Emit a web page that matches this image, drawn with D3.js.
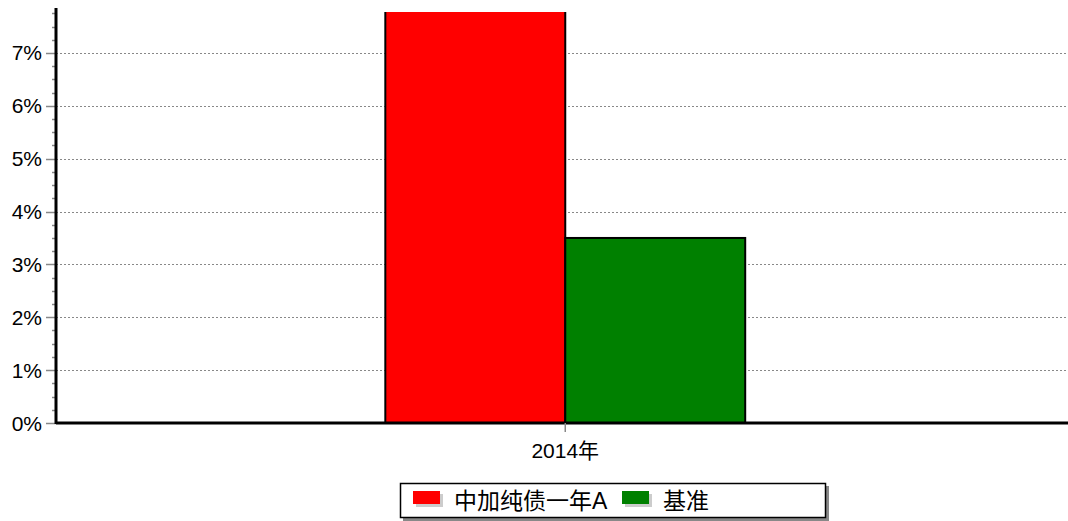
<!DOCTYPE html>
<html lang="zh">
<head>
  <meta charset="UTF-8">
  <title>中加纯债一年A 与 基准</title>
  <script src="https://d3js.org/d3.v7.min.js"></script>
  <style>
    body { margin: 0; background: #fff; }
    svg text { font-family: "Liberation Sans", Arial, "Noto Sans CJK SC", sans-serif; fill: #000; }
  </style>
</head>
<body>
<svg id="chart" width="1068" height="521"></svg>
<script>
  // data
  const categories = ['2014年'];
  const seriesNames = ['中加纯债一年A', '基准'];
  const seriesColors = ['#ff0000', '#008000'];
  const seriesValues = [[9.2], [3.5]]; // red bar runs past the top of the axis
  const yTicks = [0, 1, 2, 3, 4, 5, 6, 7];

  const svg = d3.select('#chart');
  const margin = { left: 56, right: 0, top: 8, bottom: 98 };
  const width = 1068, height = 521;
  const plotBottom = height - margin.bottom; // 423

  const y = d3.scaleLinear()
    .domain([0, 7.85])
    .range([plotBottom, margin.top]);

  const x0 = d3.scaleBand()
    .domain(categories)
    .range([margin.left, width - margin.right])
    .paddingInner(0)
    .paddingOuter(0.906)
    .align(0.505);

  const x1 = d3.scaleBand()
    .domain(seriesNames)
    .range([0, x0.bandwidth()]);

  // dotted grid lines
  svg.append('g')
    .selectAll('line')
    .data(yTicks.slice(1))
    .join('line')
    .attr('x1', margin.left)
    .attr('x2', width)
    .attr('y1', d => Math.round(y(d)) + 0.5)
    .attr('y2', d => Math.round(y(d)) + 0.5)
    .attr('stroke', '#888')
    .attr('stroke-width', 1)
    .attr('stroke-dasharray', '2,2');

  // clip so the tall bar is cut at the top of the plot
  svg.append('clipPath').attr('id', 'plot-clip')
    .append('rect')
    .attr('x', margin.left)
    .attr('y', 12)
    .attr('width', width - margin.left)
    .attr('height', plotBottom - 12);

  const bars = [];
  categories.forEach((c, ci) => {
    seriesNames.forEach((s, si) => {
      bars.push({ cat: c, name: s, value: seriesValues[si][ci], color: seriesColors[si] });
    });
  });

  svg.append('g')
    .attr('clip-path', 'url(#plot-clip)')
    .selectAll('rect')
    .data(bars)
    .join('rect')
    .attr('x', d => x0(d.cat) + x1(d.name))
    .attr('y', d => y(d.value))
    .attr('width', x1.bandwidth())
    .attr('height', d => plotBottom - y(d.value))
    .attr('fill', d => d.color)
    .attr('stroke', '#000')
    .attr('stroke-width', 2);

  // y axis: minor ticks, major ticks, labels
  const minor = d3.range(0, 7.85, 0.25);
  svg.append('g')
    .selectAll('line')
    .data(minor)
    .join('line')
    .attr('x1', d => (d % 1 === 0 ? margin.left - 10 : margin.left - 4))
    .attr('x2', margin.left)
    .attr('y1', d => Math.round(y(d)) + 0.5)
    .attr('y2', d => Math.round(y(d)) + 0.5)
    .attr('stroke', '#888')
    .attr('stroke-width', 1.5);

  svg.append('g')
    .selectAll('text')
    .data(yTicks)
    .join('text')
    .attr('x', margin.left - 14)
    .attr('y', d => y(d))
    .attr('dy', '0.36em')
    .attr('text-anchor', 'end')
    .attr('font-size', 21)
    .text(d => d + '%');

  svg.append('line')
    .attr('x1', margin.left).attr('x2', margin.left)
    .attr('y1', margin.top).attr('y2', plotBottom + 1)
    .attr('stroke', '#000').attr('stroke-width', 3);

  // x axis baseline, tick and label
  svg.append('line')
    .attr('x1', margin.left).attr('x2', width)
    .attr('y1', plotBottom).attr('y2', plotBottom)
    .attr('stroke', '#000').attr('stroke-width', 3);

  const xg = svg.append('g');
  categories.forEach(c => {
    const cx = x0(c) + x0.bandwidth() / 2;
    xg.append('line')
      .attr('x1', cx).attr('x2', cx)
      .attr('y1', plotBottom).attr('y2', plotBottom + 9)
      .attr('stroke', '#888').attr('stroke-width', 1.5);
    xg.append('text')
      .attr('x', cx)
      .attr('y', plotBottom + 35)
      .attr('text-anchor', 'middle')
      .attr('font-size', 21)
      .text(c);
  });

  // legend
  const lg = svg.append('g');
  lg.append('rect')
    .attr('x', 403).attr('y', 486).attr('width', 426).attr('height', 35)
    .attr('fill', '#888');
  lg.append('rect')
    .attr('x', 400.5).attr('y', 483.5).attr('width', 425).attr('height', 34)
    .attr('fill', '#fff').attr('stroke', '#000').attr('stroke-width', 1.5);

  const itemX = [413, 622];
  seriesNames.forEach((s, i) => {
    lg.append('rect')
      .attr('x', itemX[i] + 3).attr('y', 494).attr('width', 27).attr('height', 13)
      .attr('fill', '#ccc');
    lg.append('rect')
      .attr('x', itemX[i]).attr('y', 491).attr('width', 27).attr('height', 13)
      .attr('fill', seriesColors[i]);
    lg.append('text')
      .attr('x', itemX[i] + 41)
      .attr('y', 509)
      .attr('font-size', 23)
      .text(s);
  });
</script>
</body>
</html>
